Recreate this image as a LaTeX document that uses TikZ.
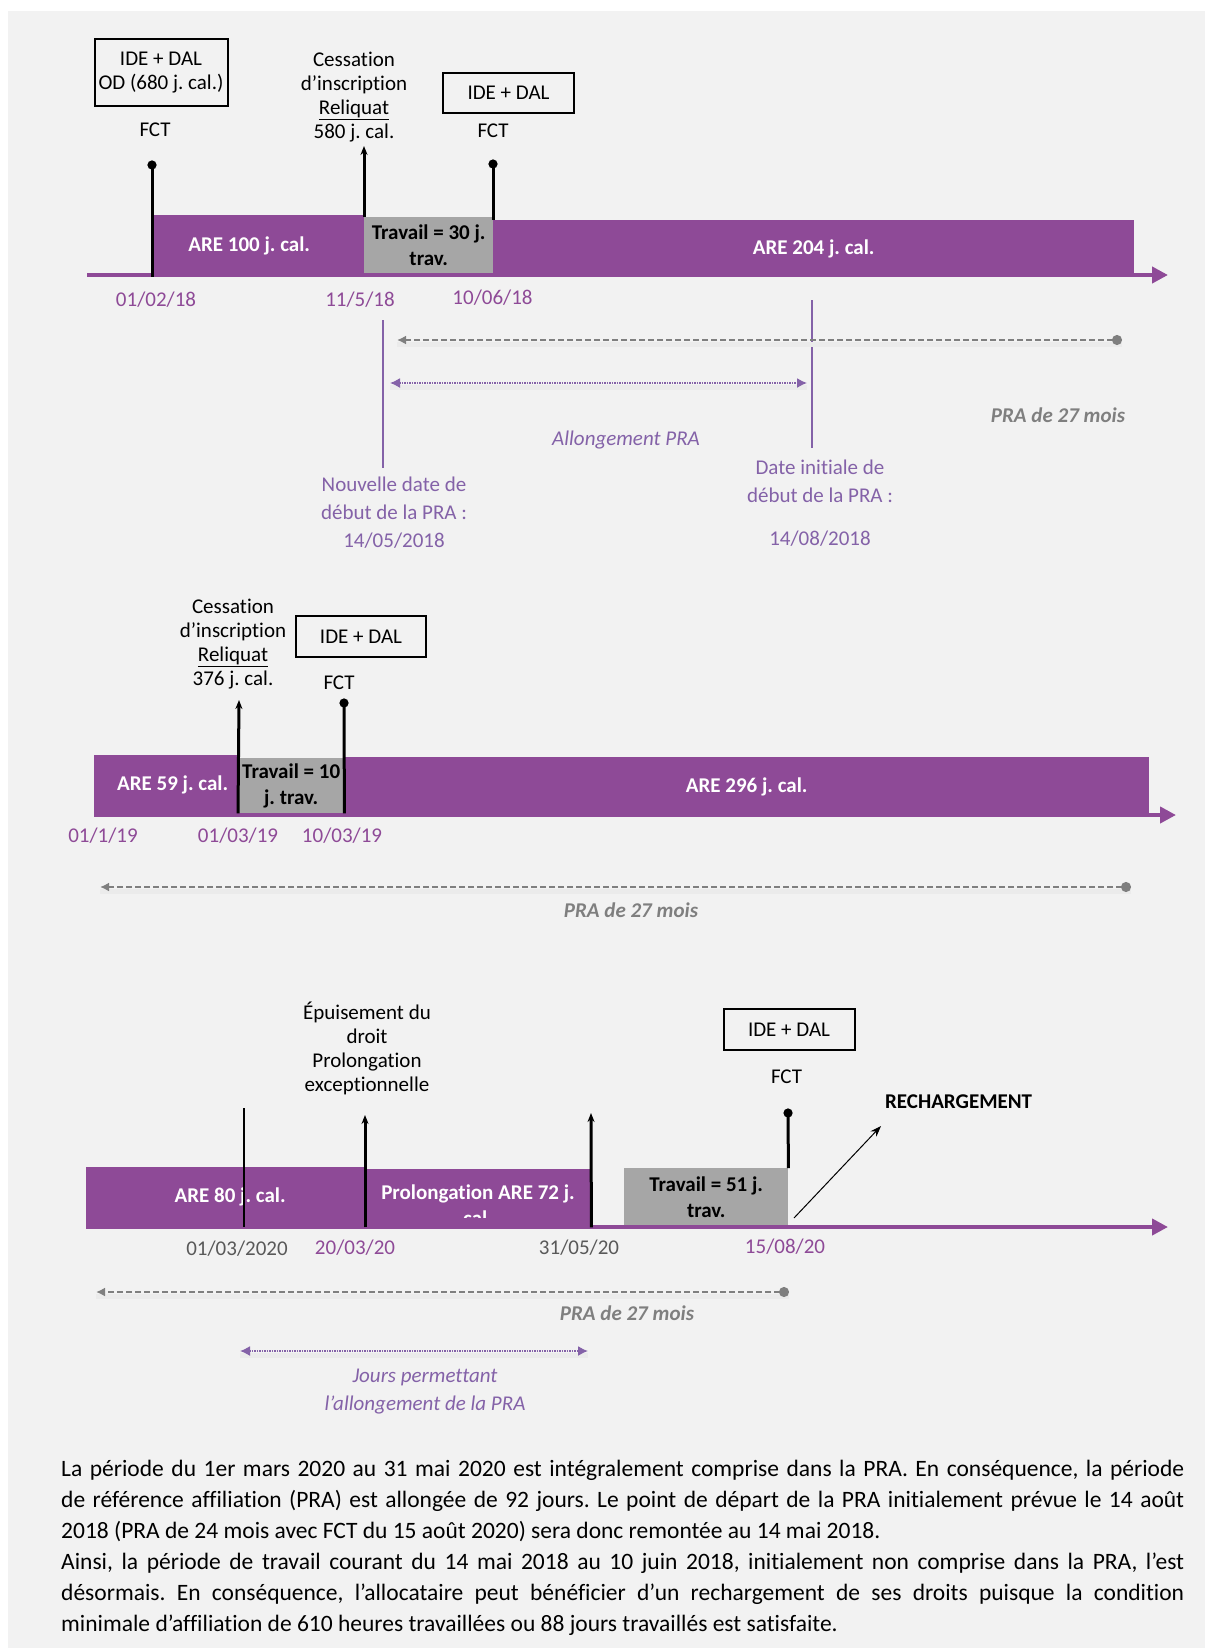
\documentclass[tikz,border=0pt]{standalone}
\usepackage{fontspec}
\setmainfont{Carlito}[Ligatures={TeX,NoCommon}]
\usepackage{tikz}
\usepackage{xcolor}
\usetikzlibrary{arrows.meta, positioning, calc}
\frenchspacing

\definecolor{barpurple}{HTML}{8E4A97}
\definecolor{linepurple}{HTML}{8462A8}
\definecolor{bggray}{HTML}{F2F2F2}
\definecolor{workgray}{HTML}{A6A6A6}
\definecolor{pragray}{HTML}{7F7F7F}
\definecolor{dategray}{HTML}{595959}

\begin{document}
\begin{tikzpicture}[
    x=1pt, y=-1pt,
    every node/.style={font=\fontsize{21}{24}\selectfont},
    bar/.style={rectangle, fill=barpurple, anchor=north west, inner sep=0pt, text=white, align=center, font=\fontsize{21}{26}\selectfont\bfseries},
    work/.style={rectangle, fill=workgray, anchor=north west, inner sep=0pt, align=center, font=\fontsize{21}{26}\selectfont\bfseries},
    box/.style={rectangle, draw=black, line width=2pt, align=center, inner sep=0pt},
    note/.style={align=center},
    date/.style={text=barpurple},
    olddate/.style={text=dategray},
    hint/.style={align=center, text=linepurple, font=\fontsize{21}{28}\selectfont},
    pratext/.style={text=pragray, font=\fontsize{21}{24}\selectfont\bfseries\itshape},
    axis/.style={barpurple, line width=4pt, -{Triangle[length=16pt,width=16pt]}},
    stem/.style={line width=3pt, {Circle[length=9pt]}-},
    cease/.style={line width=3pt, -{Stealth[length=9pt,width=7pt]}},
    limit/.style={linepurple, line width=2pt},
    pra/.style={pragray, line width=2pt, dash pattern=on 6pt off 3pt, {Circle[length=10pt]}-{Latex[length=9pt,width=9pt]}},
    ext/.style={linepurple, line width=1.5pt, dash pattern=on 1.5pt off 1pt, {Latex[length=10pt,width=10pt]}-{Latex[length=10pt,width=10pt]}},
    glow/.style={black!8, line width=5pt, transform canvas={yshift=-4pt}}
]

% page and background
\useasboundingbox (0,0) rectangle (1205,1648);
\fill[white] (0,0) rectangle (1205,1648);
\fill[bggray] (8,11) rectangle (1205,1648);

% ---- first case: 2018 ----
\node (are100) [bar, minimum width=212pt, minimum height=62pt] at (152,215) {ARE 100 j. cal.\hspace*{18pt}};
\node (trav30) [work, minimum width=129pt, minimum height=56pt] at (364,217) {Travail = 30 j.\\trav.};
\node (are204) [bar, minimum width=641pt, minimum height=57pt] at (493,220) {ARE 204 j. cal.};
\coordinate (axisa) at (87,275);
\coordinate (axisaend) at (1168,275);
\draw [axis] (axisa) -- (axisaend);

\coordinate (dota) at (152,160.5);
\coordinate (tipa) at (364,146);
\coordinate (dotb) at (493,159.5);
\draw [stem] (dota) -- (are100.south west);
\draw [cease] (trav30.north west) -- (tipa);
\draw [stem] (dotb) -- (are204.north west);

\node (odbox) [box, minimum width=133pt, minimum height=67pt] at (161,73) {IDE + DAL\\OD (680 j. cal.)};
\node (fcta) at (155,130) {FCT};
\node (ceasea) [note] at (354,97) {Cessation\\d’inscription\\\underline{Reliquat}\\580 j. cal.};
\node (ideb) [box, minimum width=131pt, minimum height=40pt] at (508.5,93) {IDE + DAL};
\node (fctb) at (493,131) {FCT};

\node (da1) [date] at (156,300) {01/02/18};
\node (da2) [date] at (360,300) {11/5/18};
\node (da3) [date] at (492.5,298) {10/06/18};

\coordinate (newtop) at (383,320);
\coordinate (newbot) at (383,468);
\coordinate (oldtop) at (812,300);
\coordinate (oldbot) at (812,448);
\draw [limit] (newtop) -- (newbot);
\draw [limit] (oldtop) -- (oldbot);

\coordinate (praa) at (1122,340);
\coordinate (praastart) at (397,340);
\draw [glow] (praa) -- (praastart);
\draw [pra] (praa) -- (praastart);
\coordinate (exta) at (390,383);
\coordinate (extb) at (807,383);
\draw [glow] (exta) -- (extb);
\draw [ext] (exta) -- (extb);

\node (praatext) [pratext] at (1058,415) {PRA de 27 mois};
\node (allong) [hint, font=\fontsize{21}{24}\selectfont\itshape] at (626,440) {Allongement PRA};
\node (newdate) [hint] at (394,513) {Nouvelle date de\\début de la PRA :\\14/05/2018};
\node (olddate) [hint] at (820,503) {Date initiale de\\début de la PRA :\\[15pt]14/08/2018};

% ---- second case: 2019 ----
\node (are59) [bar, minimum width=144pt, minimum height=60pt] at (94,755) {\hspace*{13pt}ARE 59 j. cal.};
\node (trav10) [work, minimum width=106pt, minimum height=55pt] at (238,758) {Travail = 10\\j. trav.};
\node (are296) [bar, minimum width=805pt, minimum height=59pt] at (344,757) {ARE 296 j. cal.};
\coordinate (axisb) at (94,815);
\coordinate (axisbend) at (1176,815);
\draw [axis] (axisb) -- (axisbend);

\coordinate (tipb) at (239,700);
\coordinate (dotc) at (344,698.5);
\draw [cease] (trav10.south west) -- (tipb);
\draw [stem] (dotc) -- (trav10.south east);

\node (ceaseb) [note] at (233,644) {Cessation\\d’inscription\\\underline{Reliquat}\\376 j. cal.};
\node (idec) [box, minimum width=130pt, minimum height=41pt] at (361,636.5) {IDE + DAL};
\node (fctc) at (339,683) {FCT};

\node (db1) [date] at (103,836) {01/1/19};
\node (db2) [date] at (238,836) {01/03/19};
\node (db3) [date] at (342,836) {10/03/19};

\coordinate (prab) at (1131,887);
\coordinate (prabstart) at (100,887);
\draw [glow] (prab) -- (prabstart);
\draw [pra] (prab) -- (prabstart);
\node (prabtext) [pratext] at (631,910) {PRA de 27 mois};

% ---- third case: 2020 ----
\node (are80) [bar, minimum width=279pt, minimum height=60pt] at (86,1167) {\hspace*{9pt}ARE 80 j. cal.};
\node (prol72) [bar, minimum width=226pt, minimum height=58pt] at (365,1169) {};
\begin{scope}
  \clip (prol72.north west) rectangle ($(prol72.south east)+(0,-10)$);
  \node (prol72text) [text=white, align=center, font=\fontsize{21}{26}\selectfont\bfseries] at (478,1205) {Prolongation ARE 72 j.\\cal.};
\end{scope}
\coordinate (axisc) at (86,1227);
\coordinate (axiscend) at (1168,1227);
\draw [axis] (axisc) -- (axiscend);
\node (trav51) [work, minimum width=164pt, minimum height=57pt] at (624,1168) {Travail = 51 j.\\trav.};

\coordinate (marchtop) at (244,1108);
\coordinate (tipc) at (365,1115);
\coordinate (tipd) at (591,1113);
\coordinate (dotd) at (788,1108.5);
\draw [line width=2.5pt] (marchtop) -- (marchtop |- are80.south);
\draw [cease] (prol72.south west) -- (tipc);
\draw [cease] (prol72.south east) -- (tipd);
\draw [stem] (dotd) -- (trav51.north east);

\node (epuis) [note] at (367,1048) {Épuisement du\\droit\\Prolongation\\exceptionnelle};
\node (ided) [box, minimum width=131pt, minimum height=41pt] at (789,1029.5) {IDE + DAL};
\node (fctd) at (786.5,1077) {FCT};
\node (recharge) [font=\fontsize{21}{24}\selectfont\bfseries] at (958.6,1102) {RECHARGEMENT};
\coordinate (rchfoot) at (794,1218);
\coordinate (rchtip) at (881,1126);
\draw [line width=1pt, -{Stealth[length=11pt,width=8pt]}] (rchfoot) -- (rchtip);

\node (dc1) [olddate] at (237,1249) {01/03/2020};
\node (dc2) [date] at (355,1248) {20/03/20};
\node (dc3) [olddate] at (579,1248) {31/05/20};
\node (dc4) [date] at (785,1247) {15/08/20};

\coordinate (prac) at (789,1292);
\coordinate (pracstart) at (96,1292);
\draw [glow] (prac) -- (pracstart);
\draw [pra] (prac) -- (pracstart);
\node (practext) [pratext] at (627,1313) {PRA de 27 mois};
\coordinate (extc) at (240,1351);
\coordinate (extd) at (588,1351);
\draw [glow] (extc) -- (extd);
\draw [ext] (extc) -- (extd);
\node (jours) [hint, font=\fontsize{21}{28}\selectfont\itshape] at (425,1392) {Jours permettant\\l’allongement de la PRA};

% ---- explanation ----
\node (summary) [anchor=north west, inner sep=0pt, text width=1123pt, align=justify, font=\fontsize{23.5}{30.9}\selectfont] at (61,1460) {\parindent=0pt\hyphenpenalty=10000
La période du 1er mars 2020 au 31 mai 2020 est intégralement comprise dans la PRA. En conséquence, la période\linebreak
de référence affiliation (PRA) est allongée de 92 jours. Le point de départ de la PRA initialement prévue le 14 août\linebreak
2018 (PRA de 24 mois avec FCT du 15 août 2020) sera donc remontée au 14 mai 2018.\par
Ainsi, la période de travail courant du 14 mai 2018 au 10 juin 2018, initialement non comprise dans la PRA, l’est\linebreak
désormais. En conséquence, l’allocataire peut bénéficier d’un rechargement de ses droits puisque la condition\linebreak
minimale d’affiliation de 610 heures travaillées ou 88 jours travaillés est satisfaite.};

\end{tikzpicture}
\end{document}
